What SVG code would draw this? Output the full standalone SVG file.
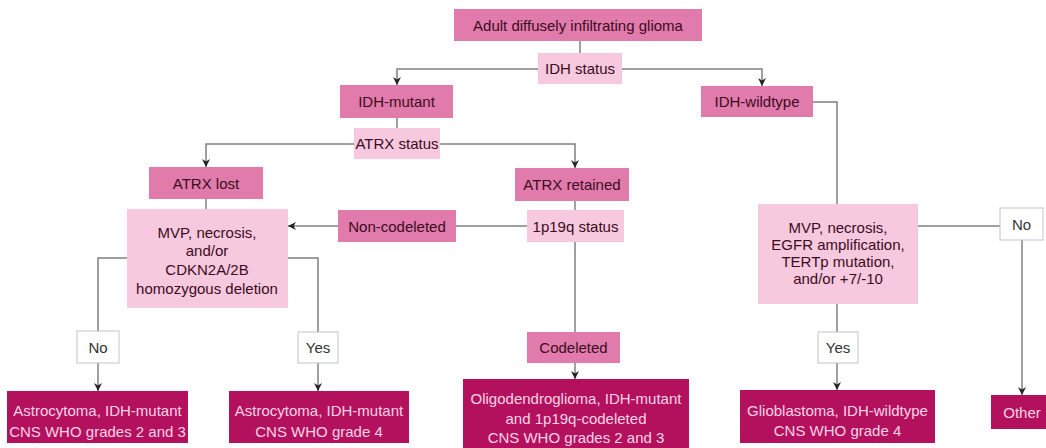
<svg xmlns="http://www.w3.org/2000/svg" width="1046" height="448" viewBox="0 0 1046 448">
<style>
text{font-family:"Liberation Sans",Arial,sans-serif;font-size:15px;text-anchor:middle;dominant-baseline:central}
.mid{fill:#e07bab}
.lt{fill:#f6c9de}
.dk{fill:#b3115e}
.wh{fill:#ffffff;stroke:#c4c4c4;stroke-width:1}
.td{fill:#3d0b22}
.tl{fill:#fbd3e5}
.tb{fill:#333333}
.c{fill:none;stroke:#808080;stroke-width:1.5}
</style>
<defs>
<marker id="ah" viewBox="0 0 10 10" refX="10" refY="5" markerWidth="8" markerHeight="8" markerUnits="userSpaceOnUse" orient="auto">
<path d="M0,0 L10,5 L0,10 L3,5 z" fill="#222"/>
</marker>
</defs>
<rect width="1046" height="448" fill="#ffffff"/>
<g id="connectors">
<path class="c" d="M580,41 V53"/>
<path class="c" d="M538,69 H397 V85" marker-end="url(#ah)"/>
<path class="c" d="M622,69 H762 V86" marker-end="url(#ah)"/>
<path class="c" d="M397,118 V128"/>
<path class="c" d="M354,144 H206 V167" marker-end="url(#ah)"/>
<path class="c" d="M440,144 H575 V168" marker-end="url(#ah)"/>
<path class="c" d="M206,199 V209"/>
<path class="c" d="M575,201 V210"/>
<path class="c" d="M527,226 H456"/>
<path class="c" d="M338,226 H288" marker-end="url(#ah)"/>
<path class="c" d="M575,242 V332"/>
<path class="c" d="M575,363 V379" marker-end="url(#ah)"/>
<path class="c" d="M127,258 H98 V331"/>
<path class="c" d="M98,363 V391" marker-end="url(#ah)"/>
<path class="c" d="M288,258 H318 V332"/>
<path class="c" d="M318,363 V391" marker-end="url(#ah)"/>
<path class="c" d="M813,102 H837 V204"/>
<path class="c" d="M918,226 H1000"/>
<path class="c" d="M1022,240 V395" marker-end="url(#ah)"/>
<path class="c" d="M837,304 V332"/>
<path class="c" d="M837,363 V390" marker-end="url(#ah)"/>
</g>
<g id="n_top"><rect class="mid" x="454" y="9" width="248" height="32"/><text class="td" x="578" y="25">Adult diffusely infiltrating glioma</text></g>
<g id="n_idh_status"><rect class="lt" x="538" y="53" width="84" height="31"/><text class="td" x="580" y="68.5">IDH status</text></g>
<g id="n_idh_mut"><rect class="mid" x="340" y="85" width="113" height="33"/><text class="td" x="396.5" y="101.5">IDH-mutant</text></g>
<g id="n_idh_wt"><rect class="mid" x="701" y="86" width="112" height="31"/><text class="td" x="757" y="101.5">IDH-wildtype</text></g>
<g id="n_atrx_status"><rect class="lt" x="354" y="128" width="86" height="31"/><text class="td" x="397" y="143.5">ATRX status</text></g>
<g id="n_atrx_lost"><rect class="mid" x="149" y="167" width="114" height="32"/><text class="td" x="206" y="183">ATRX lost</text></g>
<g id="n_atrx_ret"><rect class="mid" x="515" y="168" width="114" height="33"/><text class="td" x="572" y="184.5">ATRX retained</text></g>
<g id="n_mvp_left"><rect class="lt" x="127" y="209" width="161" height="99"/>
<text class="td" x="207" y="232">MVP, necrosis,</text>
<text class="td" x="207" y="250">and/or</text>
<text class="td" x="207" y="269">CDKN2A/2B</text>
<text class="td" x="207" y="288">homozygous deletion</text></g>
<g id="n_noncodel"><rect class="mid" x="338" y="210" width="118" height="32"/><text class="td" x="397" y="226">Non-codeleted</text></g>
<g id="n_1p19q"><rect class="lt" x="527" y="210" width="97" height="32"/><text class="td" x="575.5" y="226">1p19q status</text></g>
<g id="n_mvp_right"><rect class="lt" x="758" y="204" width="160" height="100"/>
<text class="td" x="838" y="227">MVP, necrosis,</text>
<text class="td" x="838" y="244">EGFR amplification,</text>
<text class="td" x="838" y="261">TERTp mutation,</text>
<text class="td" x="838" y="278">and/or +7/-10</text></g>
<g id="n_no_right"><rect class="wh" x="1000" y="208" width="43" height="32"/><text class="tb" x="1021.5" y="224">No</text></g>
<g id="n_no_left"><rect class="wh" x="77" y="331" width="42" height="32"/><text class="tb" x="98" y="347">No</text></g>
<g id="n_yes_left"><rect class="wh" x="298" y="332" width="40" height="31"/><text class="tb" x="318" y="347.5">Yes</text></g>
<g id="n_codel"><rect class="mid" x="527" y="332" width="93" height="31"/><text class="td" x="573.5" y="347.5">Codeleted</text></g>
<g id="n_yes_right"><rect class="wh" x="818" y="332" width="40" height="31"/><text class="tb" x="838" y="347.5">Yes</text></g>
<g id="n_astro1"><rect class="dk" x="7" y="391" width="181" height="52"/>
<text class="tl" x="97.5" y="410">Astrocytoma, IDH-mutant</text>
<text class="tl" x="97.5" y="431">CNS WHO grades 2 and 3</text></g>
<g id="n_astro2"><rect class="dk" x="229" y="391" width="180" height="52"/>
<text class="tl" x="319" y="410">Astrocytoma, IDH-mutant</text>
<text class="tl" x="319" y="431">CNS WHO grade 4</text></g>
<g id="n_oligo"><rect class="dk" x="463" y="379" width="226" height="75"/>
<text class="tl" x="576" y="398">Oligodendroglioma, IDH-mutant</text>
<text class="tl" x="576" y="418">and 1p19q-codeleted</text>
<text class="tl" x="576" y="437">CNS WHO grades 2 and 3</text></g>
<g id="n_glio"><rect class="dk" x="740" y="390" width="195" height="53"/>
<text class="tl" x="837.5" y="410">Glioblastoma, IDH-wildtype</text>
<text class="tl" x="837.5" y="430">CNS WHO grade 4</text></g>
<g id="n_other"><rect class="dk" x="991" y="395" width="60" height="34"/><text class="tl" x="1022" y="412">Other</text></g>
</svg>
